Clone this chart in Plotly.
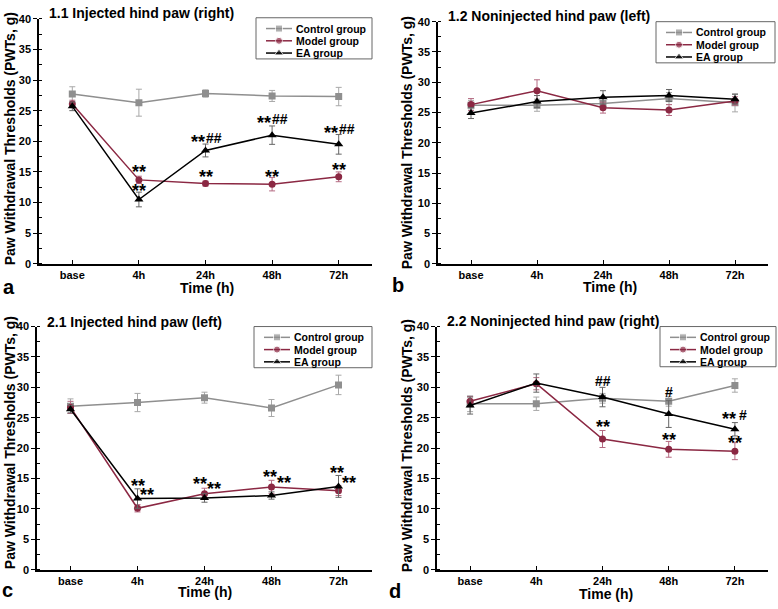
import plotly.graph_objects as go

W, H = 778, 609
times = ["base", "4h", "24h", "48h", "72h"]
groups = ["Control group", "Model group", "EA group"]

# Panel a: 1.1 Injected hind paw (right)
a_control = [27.7, 26.3, 27.8, 27.4, 27.3]
a_control_err = [1.2, 2.2, 0.6, 0.9, 1.5]
a_model = [26.1, 13.7, 13.1, 13.0, 14.2]
a_model_err = [0.6, 0.6, 0.4, 1.1, 0.8]
a_ea = [25.7, 10.5, 18.5, 21.0, 19.5]
a_ea_err = [0.7, 1.2, 1.05, 1.5, 1.6]

# Panel b: 1.2 Noninjected hind paw (left)
b_control = [26.2, 26.2, 26.5, 27.3, 26.6]
b_control_err = [0.8, 1.0, 0.9, 1.0, 1.5]
b_model = [26.3, 28.6, 25.8, 25.4, 26.9]
b_model_err = [1.0, 1.8, 0.9, 0.9, 0.7]
b_ea = [24.9, 26.8, 27.5, 27.8, 27.2]
b_ea_err = [0.9, 1.0, 1.1, 1.0, 0.8]

# Panel c: 2.1 Injected hind paw (left)
c_control = [26.9, 27.5, 28.3, 26.6, 30.4]
c_control_err = [1.2, 1.5, 0.9, 1.4, 1.6]
c_model = [26.7, 10.1, 12.5, 13.6, 13.0]
c_model_err = [1.0, 0.6, 0.9, 1.1, 0.8]
c_ea = [26.4, 11.7, 11.8, 12.2, 13.7]
c_ea_err = [0.6, 1.6, 0.7, 0.6, 1.8]

# Panel d: 2.2 Noninjected hind paw (right)
d_control = [27.3, 27.3, 28.2, 27.7, 30.3]
d_control_err = [1.3, 1.1, 0.8, 0.8, 1.1]
d_model = [27.7, 30.6, 21.5, 19.8, 19.5]
d_model_err = [0.8, 1.0, 1.4, 1.3, 1.4]
d_ea = [27.0, 30.7, 28.4, 25.6, 23.1]
d_ea_err = [1.4, 1.5, 1.6, 2.2, 1.1]

titles = ["1.1 Injected hind paw (right)", "1.2 Noninjected hind paw (left)",
          "2.1 Injected hind paw (left)", "2.2 Noninjected hind paw (right)"]
letters = ["a", "b", "c", "d"]

# significance marks: (time, y of glyph centre, text, xshift px, anchor)
a_marks = [("4h", 15.6, "**", 0, "center"), ("4h", 12.5, "**", 0, "center"),
           ("24h", 20.6, "**", -1, "right"), ("24h", 20.6, "##", 0, "left"),
           ("24h", 14.9, "**", 0, "center"),
           ("48h", 23.7, "**", -1, "right"), ("48h", 23.7, "##", 0, "left"),
           ("48h", 14.9, "**", 0, "center"),
           ("72h", 21.95, "**", -1, "right"), ("72h", 21.95, "##", 0, "left"),
           ("72h", 16.0, "**", 0, "center")]
c_marks = [("4h", 14.4, "**", 0, "center"), ("4h", 12.96, "**", 9, "center"),
           ("24h", 14.8, "**", -5, "center"), ("24h", 13.9, "**", 9, "center"),
           ("48h", 15.9, "**", -2, "center"), ("48h", 14.9, "**", 12, "center"),
           ("72h", 16.6, "**", -2, "center"), ("72h", 14.9, "**", 10, "center")]
d_marks = [("24h", 31.0, "##", 0, "center"), ("24h", 24.1, "**", 0, "center"),
           ("48h", 29.2, "#", 0, "center"), ("48h", 22.05, "**", 0, "center"),
           ("72h", 25.5, "**", 1, "right"), ("72h", 25.45, "#", 4, "left"),
           ("72h", 21.5, "**", 0, "center")]

panels = [
    (a_control, a_control_err, a_model, a_model_err, a_ea, a_ea_err, a_marks),
    (b_control, b_control_err, b_model, b_model_err, b_ea, b_ea_err, []),
    (c_control, c_control_err, c_model, c_model_err, c_ea, c_ea_err, c_marks),
    (d_control, d_control_err, d_model, d_model_err, d_ea, d_ea_err, d_marks),
]

# layout geometry in pixels: (x0, x1, ytop, ybottom)
boxes = [(39, 372, 13, 263), (438, 768, 16, 263), (37, 372, 327, 575), (437, 768, 327, 575)]
legend_box = [(256, 12, 372, 54), (656, 16, 775, 58), (254, 327, 372, 369), (660, 327, 776, 368)]
title_pos = [(47, 7), (446, 10), (45, 322), (445, 321)]
ytitle_pos = [(10, 136), (407, 140), (10, 446), (407, 449)]
xtitle_pos = [(207, 288), (610, 287), (205, 598), (606, 600)]
letter_pos = [(9, 287), (398, 285), (8, 596), (395, 597)]

colors = ["#8f8f8f", "#8b2843", "#000000"]
err_colors = ["#a8a8a8", "#b46a82", "#666666"]
symbols = ["square", "circle", "triangle-up"]
msizes = [7, 7, 8]
FONT = "Liberation Sans, Arial, sans-serif"

fig = go.Figure()
layout = {}
annotations = []
shapes = []


def px(x):
    return x / W


def py(y):
    return 1 - y / H


for i, (pan, box) in enumerate(zip(panels, boxes)):
    n = "" if i == 0 else str(i + 1)
    xa, ya = "x" + n, "y" + n
    means = [pan[0], pan[2], pan[4]]
    errs = [pan[1], pan[3], pan[5]]
    for g in range(3):
        fig.add_trace(go.Scatter(
            x=times, y=means[g], name=groups[g], mode="lines+markers",
            line=dict(color=colors[g], width=1.5),
            marker=dict(symbol=symbols[g], size=msizes[g], color=colors[g]),
            error_y=dict(type="data", array=errs[g], color=err_colors[g], thickness=1, width=3),
            xaxis=xa, yaxis=ya, showlegend=False))
    x0, x1, yt, yb = box
    layout["xaxis" + n] = dict(
        domain=[px(x0), px(x1)], anchor=ya, type="category", range=[-0.5, 4.5],
        categoryorder="array", categoryarray=times,
        showline=True, linecolor="black", linewidth=1.5, ticks="inside", ticklen=4,
        tickwidth=1.2, tickcolor="black", showgrid=False, zeroline=False,
        tickfont=dict(family=FONT, size=11, color="black", weight="bold"))
    layout["yaxis" + n] = dict(
        domain=[py(yb), py(yt)], anchor=xa, range=[0, 40], dtick=5,
        showline=True, linecolor="black", linewidth=1.5, ticks="outside", ticklen=4,
        tickwidth=1.2, tickcolor="black", showgrid=False, zeroline=False,
        minor=dict(dtick=2.5, ticks="inside", ticklen=3, tickcolor="black", tickwidth=1),
        tickfont=dict(family=FONT, size=11, color="black", weight="bold"))

    # legend (drawn on a full-page pixel overlay)
    lx0, ly0, lx1, ly1 = legend_box[i]
    shapes.append(dict(type="rect", xref="paper", yref="paper",
                       x0=px(lx0), x1=px(lx1), y0=py(ly1), y1=py(ly0),
                       line=dict(color="#666666", width=1), fillcolor="rgba(0,0,0,0)",
                       layer="above"))
    for g in range(3):
        ry = ly0 + 11 + 12.5 * g
        fig.add_trace(go.Scatter(
            x=[lx0 + 10, lx0 + 23, lx0 + 36], y=[ry, ry, ry], mode="lines+markers",
            line=dict(color=colors[g], width=1.5),
            marker=dict(symbol=symbols[g], size=[0, msizes[g], 0], color=colors[g]),
            xaxis="x5", yaxis="y5", showlegend=False, hoverinfo="skip"))
        annotations.append(dict(text=groups[g], x=px(lx0 + 38), y=py(ry), xref="paper", yref="paper",
                                xanchor="left", yanchor="middle", showarrow=False,
                                font=dict(family=FONT, size=10.5, color="black", weight="bold")))

    tx, ty = title_pos[i]
    annotations.append(dict(text=titles[i], x=px(tx), y=py(ty), xref="paper", yref="paper",
                            xanchor="left", yanchor="middle", showarrow=False,
                            font=dict(family=FONT, size=14, color="black", weight="bold")))
    yx, yy = ytitle_pos[i]
    annotations.append(dict(text="Paw Withdrawal Thresholds (PWTs, g)", x=px(yx), y=py(yy),
                            xref="paper", yref="paper", xanchor="center", yanchor="middle",
                            textangle=-90, showarrow=False,
                            font=dict(family=FONT, size=14, color="black", weight="bold")))
    xx, xy = xtitle_pos[i]
    annotations.append(dict(text="Time (h)", x=px(xx), y=py(xy), xref="paper", yref="paper",
                            xanchor="center", yanchor="middle", showarrow=False,
                            font=dict(family=FONT, size=14, color="black", weight="bold")))
    lx2, ly2 = letter_pos[i]
    annotations.append(dict(text=letters[i], x=px(lx2), y=py(ly2), xref="paper", yref="paper",
                            xanchor="center", yanchor="middle", showarrow=False,
                            font=dict(family=FONT, size=20, color="black", weight="bold")))
    for (t, yv, txt, xs, anc) in pan[6]:
        is_star = "*" in txt
        annotations.append(dict(text=txt, x=t, y=yv, xref=xa, yref=ya, xshift=xs,
                                yshift=-4 if is_star else 0, borderpad=0, borderwidth=0,
                                xanchor=anc, yanchor="middle", showarrow=False,
                                font=dict(family=FONT, size=18 if is_star else 14,
                                          color="black", weight="bold")))

layout["xaxis5"] = dict(domain=[0, 1], range=[0, W], visible=False, anchor="y5", fixedrange=True)
layout["yaxis5"] = dict(domain=[0, 1], range=[H, 0], visible=False, anchor="x5", fixedrange=True)

fig.update_layout(
    width=W, height=H, margin=dict(l=0, r=0, t=0, b=0),
    paper_bgcolor="white", plot_bgcolor="rgba(0,0,0,0)",
    annotations=annotations, shapes=shapes, hovermode=False, **layout)

fig.write_html("out.html", config={"displayModeBar": False},
               post_script="document.body.style.margin='0';document.body.style.overflow='hidden';")
